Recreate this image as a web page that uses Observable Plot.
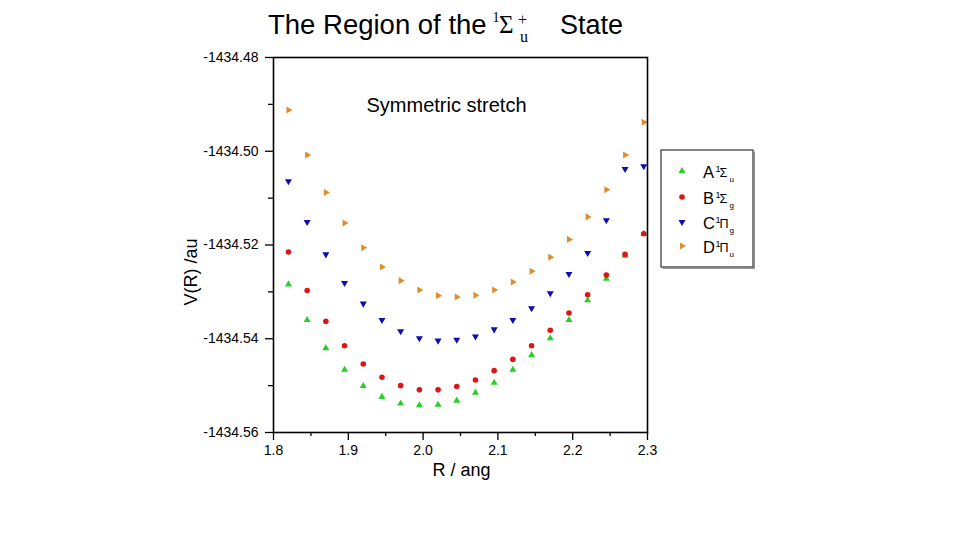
<!DOCTYPE html>
<html><head><meta charset="utf-8">
<script src="https://cdn.jsdelivr.net/npm/d3@7"></script>
<script src="https://cdn.jsdelivr.net/npm/@observablehq/plot@0.6"></script>
<style>
body{margin:0;background:#fff;}
#wrap{position:relative;width:960px;height:540px;font-family:"Liberation Sans",Arial,sans-serif;overflow:hidden;}
#wrap svg.overlay{position:absolute;left:0;top:0;pointer-events:none;}
</style></head>
<body><div id="wrap"><div id="chart"></div></div>
<script>
// ---- data ----
const R = [1.820,1.845,1.870,1.895,1.920,1.945,1.970,1.995,2.020,2.045,2.070,2.095,2.120,2.145,2.170,2.195,2.220,2.245,2.270,2.295];
const stateA = [-1434.5284,-1434.5360,-1434.5420,-1434.5466,-1434.5501,-1434.5524,-1434.5538,-1434.5542,-1434.5541,-1434.5532,-1434.5515,-1434.5494,-1434.5466,-1434.5435,-1434.5399,-1434.5360,-1434.5318,-1434.5272,-1434.5223,-1434.5176];
const stateB = [-1434.5215,-1434.5297,-1434.5363,-1434.5415,-1434.5454,-1434.5482,-1434.5500,-1434.5509,-1434.5509,-1434.5502,-1434.5488,-1434.5468,-1434.5444,-1434.5415,-1434.5382,-1434.5345,-1434.5306,-1434.5264,-1434.5220,-1434.5176];
const stateC = [-1434.5064,-1434.5151,-1434.5220,-1434.5281,-1434.5325,-1434.5360,-1434.5384,-1434.5399,-1434.5404,-1434.5402,-1434.5395,-1434.5380,-1434.5360,-1434.5335,-1434.5303,-1434.5262,-1434.5217,-1434.5147,-1434.5038,-1434.5032];
const stateD = [-1434.4912,-1434.5008,-1434.5088,-1434.5153,-1434.5206,-1434.5247,-1434.5276,-1434.5296,-1434.5308,-1434.5311,-1434.5307,-1434.5296,-1434.5279,-1434.5256,-1434.5226,-1434.5188,-1434.5140,-1434.5082,-1434.5008,-1434.4938];
const seriesKeys = ["A","B","C","D"];
const seriesLetters = ["A","B","C","D"];
const seriesGreek = ["Σ","Σ","Π","Π"];
const seriesSub = ["u","g","g","u"];
const xTicks = [1.8,1.9,2.0,2.1,2.2,2.3];
const xTickLabels = ["1.8","1.9","2.0","2.1","2.2","2.3"];
const xMinor = [1.85,1.95,2.05,2.15,2.25];
const yTicks = [-1434.56,-1434.54,-1434.52,-1434.50,-1434.48];
const yTickLabels = ["-1434.56","-1434.54","-1434.52","-1434.50","-1434.48"];
const yMinor = [-1434.55,-1434.53,-1434.51,-1434.49];

// ---- styles ----
const colors = {A:"#27cf27", B:"#dc1515", C:"#0c0cb0", D:"#e08c2c"};
const sqrt3 = Math.sqrt(3);
function tri(tf){
  return {draw(c, size){
    const y = -Math.sqrt(size/(sqrt3*3));
    const pts = [[0,y*2],[-sqrt3*y,-y],[sqrt3*y,-y]].map(tf);
    c.moveTo(pts[0][0],pts[0][1]); c.lineTo(pts[1][0],pts[1][1]); c.lineTo(pts[2][0],pts[2][1]); c.closePath();
  }};
}
const symbols = {
  A: tri(([x,y])=>[x,y]),
  B: "circle",
  C: tri(([x,y])=>[x,-y]),
  D: tri(([x,y])=>[-y,x])
};
const radii = {A:2.6, B:2.8, C:2.6, D:2.6};

const table = {
  A: R.map((r,i)=>({R:r, V:stateA[i]})),
  B: R.map((r,i)=>({R:r, V:stateB[i]})),
  C: R.map((r,i)=>({R:r, V:stateC[i]})),
  D: R.map((r,i)=>({R:r, V:stateD[i]}))
};
const xLab = new Map(xTicks.map((t,i)=>[t,xTickLabels[i]]));
const yLab = new Map(yTicks.map((t,i)=>[t,yTickLabels[i]]));

const chart = Plot.plot({
  width: 960, height: 540,
  marginLeft: 273, marginRight: 313, marginTop: 57, marginBottom: 108,
  style: {fontFamily: "'Liberation Sans', Arial, sans-serif", fontSize: "14px", background: "white", color: "black"},
  x: {domain: [1.8, 2.3]},
  y: {domain: [-1434.56, -1434.48]},
  marks: [
    Plot.axisX(xTicks, {tickSize: 8, tickPadding: 5, tickFormat: d => xLab.get(d), label: null, fontSize: 14, strokeWidth: 1.3}),
    Plot.axisX(xMinor, {tickSize: 4, tickFormat: () => "", label: null, strokeWidth: 1.3}),
    Plot.axisY(yTicks, {tickSize: 8, tickPadding: 7, tickFormat: d => yLab.get(d), label: null, fontSize: 14, strokeWidth: 1.3}),
    Plot.axisY(yMinor, {tickSize: 5, tickFormat: () => "", label: null, strokeWidth: 1.3}),
    ...seriesKeys.map(k => Plot.dot(table[k], {x: "R", y: "V", fill: colors[k], symbol: symbols[k], r: radii[k]})),
    Plot.frame({stroke: "black", strokeWidth: 1.6}),
    Plot.text(["Symmetric stretch"], {frameAnchor: "top", textAnchor: "middle", lineAnchor: "middle", text: d => d, dx: -14, dy: 48, fontSize: 20}),
    Plot.text(["R / ang"], {frameAnchor: "bottom", textAnchor: "middle", lineAnchor: "middle", text: d => d, dx: 1, dy: 38, fontSize: 18}),
    Plot.text(["V(R) /au"], {frameAnchor: "left", textAnchor: "middle", lineAnchor: "middle", text: d => d, dx: -82, dy: 27, rotate: -90, fontSize: 18})
  ]
});
document.getElementById("chart").appendChild(chart);

// ---- title & legend overlay ----
const ov = d3.select("#wrap").append("svg").attr("class","overlay").attr("width",960).attr("height",540);
const sans = "'Liberation Sans', Arial, sans-serif";
const serif = "'Liberation Serif', 'Times New Roman', serif";
const t = ov.append("g").attr("fill","black");
t.append("text").attr("x",268).attr("y",34).attr("font-family",sans).attr("font-size",27.5).text("The Region of the");
t.append("text").attr("x",492.5).attr("y",22).attr("font-family",serif).attr("font-size",14).text("1");
t.append("text").attr("x",499).attr("y",33).attr("font-family",serif).attr("font-size",25).text("Σ");
t.append("text").attr("x",518).attr("y",25).attr("font-family",serif).attr("font-size",16).text("+");
t.append("text").attr("x",520).attr("y",42).attr("font-family",serif).attr("font-size",16).text("u");
t.append("text").attr("x",560).attr("y",34).attr("font-family",sans).attr("font-size",27).text("State");

const lg = ov.append("g");
lg.append("rect").attr("x",661).attr("y",150).attr("width",92).attr("height",117).attr("fill","white").attr("stroke","#333").attr("stroke-width",1.2);
lg.append("path").attr("d","M754.2,151.5V268.2H662.5").attr("fill","none").attr("stroke","#777").attr("stroke-width",1.2);
const rowY = [171, 197, 222, 246];
seriesKeys.forEach((k,i)=>{
  const y = rowY[i];
  const sym = typeof symbols[k] === "string" ? d3.symbolCircle : symbols[k];
  lg.append("path").attr("transform",`translate(682,${y})`).attr("d", d3.symbol(sym, Math.PI*radii[k]*radii[k])()).attr("fill", colors[k]);
  const tx = lg.append("g").attr("font-family",sans).attr("fill","black");
  tx.append("text").attr("x",703).attr("y",y+7).attr("font-size",16.5).text(seriesLetters[i]);
  tx.append("text").attr("x",715.5).attr("y",y+0.5).attr("font-size",9).text("1");
  tx.append("text").attr("x",719.5).attr("y",y+6).attr("font-size",12.5).text(seriesGreek[i]);
  tx.append("text").attr("x",729.5).attr("y",y+11).attr("font-size",8).text(seriesSub[i]);
});
</script>
</body></html>
